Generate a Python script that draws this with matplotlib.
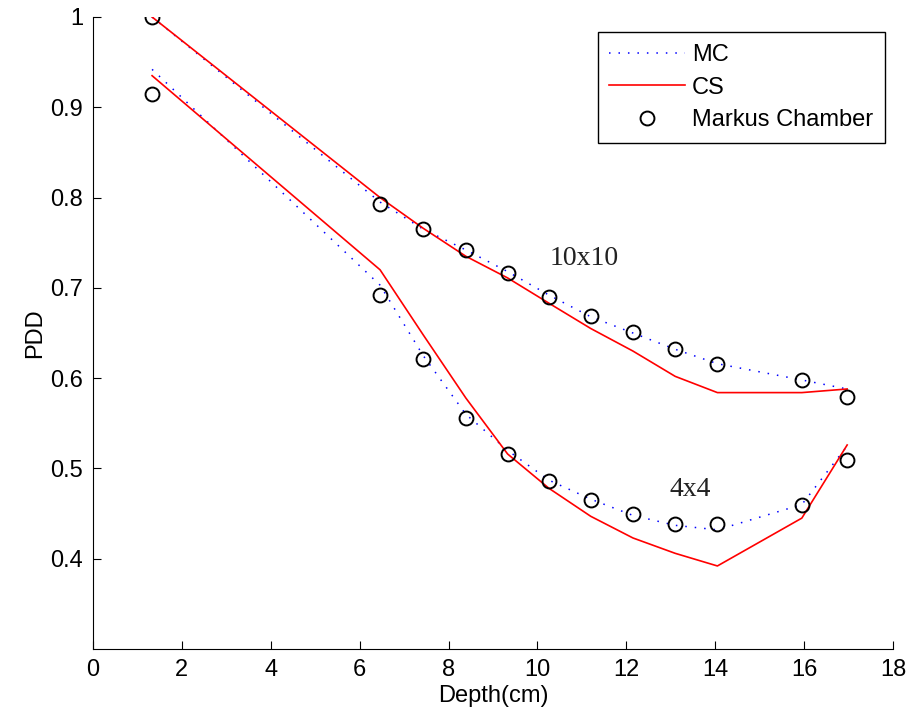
import matplotlib
matplotlib.use('Agg')
import matplotlib.pyplot as plt

depth = [1.33, 6.46, 7.43, 8.39, 9.33, 10.26, 11.2, 12.15, 13.1, 14.05, 15.95, 16.97]

# 10x10 field
mc_10 = [1.0, 0.795, 0.765, 0.742, 0.718, 0.692, 0.668, 0.650, 0.632, 0.616, 0.598, 0.588]
cs_10 = [1.0, 0.800, 0.766, 0.735, 0.711, 0.683, 0.655, 0.630, 0.602, 0.584, 0.584, 0.588]
mk_10 = [1.0, 0.793, 0.765, 0.742, 0.716, 0.690, 0.669, 0.651, 0.632, 0.616, 0.598, 0.579]

# 4x4 field
mc_4 = [0.942, 0.703, 0.625, 0.560, 0.520, 0.487, 0.466, 0.448, 0.437, 0.432, 0.460, 0.525]
cs_4 = [0.935, 0.720, 0.648, 0.578, 0.516, 0.478, 0.447, 0.423, 0.406, 0.392, 0.445, 0.526]
mk_4 = [0.915, 0.692, 0.621, 0.556, 0.516, 0.486, 0.465, 0.449, 0.439, 0.439, 0.460, 0.509]

xticks = list(range(0, 19, 2))
yticks = [0.4, 0.5, 0.6, 0.7, 0.8, 0.9, 1.0]
ytick_labels = ['0.4', '0.5', '0.6', '0.7', '0.8', '0.9', '1']

plt.rcParams['font.family'] = ['Liberation Sans', 'DejaVu Sans']

fig = plt.figure(figsize=(9.07, 7.17), dpi=100)
ax = fig.add_axes([0.1025, 0.0948, 0.882, 0.8815])

dots = (0, (1, 5.2))
ax.plot(depth, mc_10, color='blue', ls=dots, lw=1.1, label='MC')
ax.plot(depth, cs_10, color='red', lw=1.2, label='CS')
ax.plot(depth, mk_10, ls='none', marker='o', ms=10, mfc='none', mec='black', mew=1.4,
        label='Markus Chamber')
ax.plot(depth, mc_4, color='blue', ls=dots, lw=1.1)
ax.plot(depth, cs_4, color='red', lw=1.2)
ax.plot(depth, mk_4, ls='none', marker='o', ms=10, mfc='none', mec='black', mew=1.4)

ax.text(10.28, 0.725, '10x10', family='Liberation Serif', fontsize=20, color='#222222')
ax.text(12.98, 0.470, '4x4', family='Liberation Serif', fontsize=20, color='#222222')

ax.set_xlim(0, 18)
ax.set_ylim(0.3, 1.0)
ax.set_xticks(xticks)
ax.set_yticks(yticks)
ax.set_yticklabels(ytick_labels)
ax.tick_params(direction='in', length=6, labelsize=17, pad=7)
ax.spines['top'].set_visible(False)
ax.spines['right'].set_visible(False)
ax.set_xlabel('Depth(cm)', fontsize=17, labelpad=3)
ax.set_ylabel('PDD', fontsize=17, labelpad=3)

leg = ax.legend(loc='upper right', bbox_to_anchor=(0.99, 0.976), borderaxespad=0,
                fontsize=17, fancybox=False, edgecolor='black', framealpha=1,
                handlelength=3.2, handletextpad=0.3, labelspacing=0.45, borderpad=0.5)
leg.get_frame().set_linewidth(1.0)

fig.savefig('out.png', dpi=100)
